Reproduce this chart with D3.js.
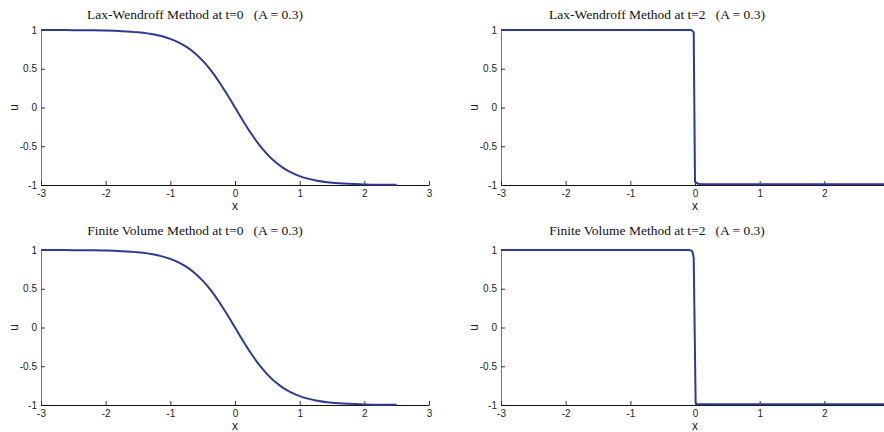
<!DOCTYPE html>
<html>
<head>
<meta charset="utf-8">
<script src="https://cdn.jsdelivr.net/npm/d3@7/dist/d3.min.js"></script>
<style>
  html, body { margin: 0; padding: 0; background: #fff; }
  svg { display: block; }
</style>
</head>
<body>
<svg id="chart" width="884" height="432"></svg>
<script>
// Initial profile u(x, 0), shared by both t=0 panels
const initX = [-3, -2.75, -2.5, -2.25, -2, -1.75, -1.5, -1.25, -1, -0.875, -0.75, -0.625, -0.5,
  -0.375, -0.25, -0.125, 0, 0.125, 0.25, 0.375, 0.5, 0.625, 0.75, 0.875, 1, 1.25, 1.5, 1.75, 2, 2.25, 2.5];
const initU = [1.0, 0.999, 0.998, 0.996, 0.993, 0.985, 0.97, 0.941, 0.885, 0.841, 0.782, 0.704, 0.604,
  0.482, 0.336, 0.173, 0, -0.173, -0.336, -0.482, -0.604, -0.704, -0.782, -0.841, -0.885, -0.941, -0.97, -0.985, -0.993, -0.996, -0.998];

// Lax-Wendroff solution at t=2
const lwX = [-3, -0.06, -0.04, -0.02, 0.0, 0.02, 0.05, 0.1, 3];
const lwU = [1.0, 1.0, 0.99, 0.97, -0.96, -0.97, -0.985, -0.99, -0.99];

// Finite volume solution at t=2
const fvX = [-3, -0.1, -0.06, -0.04, -0.02, 0.01, 0.03, 3];
const fvU = [1.0, 1.0, 0.995, 0.98, 0.9, -0.97, -0.99, -0.99];

const panelTitles = [
  "Lax-Wendroff Method at t=0   (A = 0.3)",
  "Lax-Wendroff Method at t=2   (A = 0.3)",
  "Finite Volume Method at t=0   (A = 0.3)",
  "Finite Volume Method at t=2   (A = 0.3)"
];
const xTicks = [-3, -2, -1, 0, 1, 2, 3];
const yTicks = [-1, -0.5, 0, 0.5, 1];
const xLabel = "x";
const yLabel = "u";

const series = [
  { xs: initX, us: initU, smooth: true },
  { xs: lwX, us: lwU, smooth: false },
  { xs: initX, us: initU, smooth: true },
  { xs: fvX, us: fvU, smooth: false }
];

// Subplot placement (pixels); the right-hand axes run past the page edge
const WIDTH = 884;
const layout = [
  { left: 41,  right: 429, top: 30,  bottom: 185, titleX: 195, titleY: 19,  ylabX: 14 },
  { left: 501, right: 889, top: 30,  bottom: 185, titleX: 657, titleY: 19,  ylabX: 474 },
  { left: 41,  right: 429, top: 250, bottom: 405, titleX: 195, titleY: 235, ylabX: 14 },
  { left: 501, right: 889, top: 250, bottom: 405, titleX: 657, titleY: 235, ylabX: 474 }
];

const LINE_COLOR = "#2d3996";
const SANS = "'Liberation Sans', Arial, sans-serif";
const SERIF = "'Liberation Serif', 'Times New Roman', serif";

const svg = d3.select("#chart");

layout.forEach((L, i) => {
  const x = d3.scaleLinear().domain([-3, 3]).range([L.left, L.right]);
  const y = d3.scaleLinear().domain([-1, 1]).range([L.bottom, L.top]);
  const g = svg.append("g");

  // y axis (ticks point inward)
  const yAxis = g.append("g")
    .attr("transform", `translate(${L.left},0)`)
    .call(d3.axisLeft(y).tickValues(yTicks).tickFormat(d => String(d))
      .tickSizeInner(-4).tickSizeOuter(0).tickPadding(4));
  yAxis.select(".domain").attr("stroke", "#777").attr("stroke-width", 1);
  yAxis.selectAll(".tick line").attr("stroke", "#333");
  yAxis.selectAll("text").attr("font-family", SANS).attr("font-size", 10).attr("fill", "#222");

  // x axis (ticks point inward); only ticks that fall on the page
  const shownX = xTicks.filter(v => x(v) < WIDTH - 4);
  const xAxis = g.append("g")
    .attr("transform", `translate(0,${L.bottom})`)
    .call(d3.axisBottom(x).tickValues(shownX).tickFormat(d => String(d))
      .tickSizeInner(-4).tickSizeOuter(0).tickPadding(5));
  xAxis.select(".domain").attr("stroke", "#111").attr("stroke-width", 1.2);
  xAxis.selectAll(".tick line").attr("stroke", "#333");
  xAxis.selectAll("text").attr("font-family", SANS).attr("font-size", 10).attr("fill", "#222");

  // axis labels
  g.append("text")
    .attr("x", x(0))
    .attr("y", L.bottom + 25)
    .attr("text-anchor", "middle")
    .attr("font-family", SANS).attr("font-size", 12).attr("fill", "#222")
    .text(xLabel);
  g.append("text")
    .attr("transform", `translate(${L.ylabX + 4},${y(0)}) rotate(-90)`)
    .attr("text-anchor", "middle")
    .attr("font-family", SANS).attr("font-size", 12).attr("fill", "#222")
    .text(yLabel);

  // title
  g.append("text")
    .attr("x", L.titleX).attr("y", L.titleY)
    .attr("text-anchor", "middle")
    .style("white-space", "pre")
    .attr("font-family", SERIF).attr("font-size", 13.5).attr("fill", "#111")
    .text(panelTitles[i]);

  // solution curve
  const s = series[i];
  const pts = s.xs.map((xv, k) => [xv, s.us[k]]);
  const line = d3.line()
    .x(d => x(d[0])).y(d => y(d[1]))
    .curve(s.smooth ? d3.curveMonotoneX : d3.curveLinear);
  g.append("path")
    .datum(pts)
    .attr("d", line)
    .attr("fill", "none")
    .attr("stroke", LINE_COLOR)
    .attr("stroke-width", 2)
    .attr("stroke-linejoin", "round");
});
</script>
</body>
</html>
